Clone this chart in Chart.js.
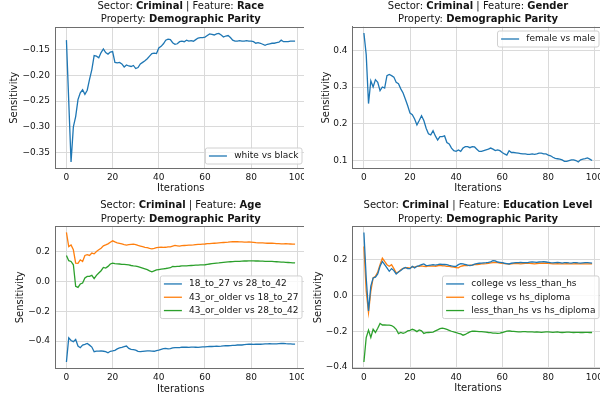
<!DOCTYPE html>
<html><head><meta charset="utf-8">
<script src="https://cdn.jsdelivr.net/npm/chart.js@4/dist/chart.umd.min.js"></script>
<style>
body{margin:0;background:#fff;width:600px;height:398px;overflow:hidden;position:relative}
.p{position:absolute;overflow:hidden}
canvas{position:absolute;left:0;top:0}
</style></head><body>
<div class="p" style="left:0;top:0;width:304px;height:199px"><canvas id="c1" width="320" height="199" style="width:320px;height:199px"></canvas></div>
<div class="p" style="left:300px;top:0;width:300px;height:199px"><canvas id="c2" width="320" height="199" style="width:320px;height:199px"></canvas></div>
<div class="p" style="left:0;top:199px;width:304px;height:199px"><canvas id="c3" width="320" height="199" style="width:320px;height:199px"></canvas></div>
<div class="p" style="left:300px;top:199px;width:300px;height:199px"><canvas id="c4" width="320" height="199" style="width:320px;height:199px"></canvas></div>
<script>
// ---------------- DATA ----------------
const SECTOR = 'Criminal';
const PROPERTY = 'Demographic Parity';
const X_TICKS = [0, 20, 40, 60, 80, 100];

const RACE_FEATURE = 'Race';
const RACE_LABELS = ['white vs black'];
const RACE_WHITE_VS_BLACK = [-0.132,-0.250,-0.368,-0.300,-0.280,-0.247,-0.234,-0.228,-0.237,-0.229,
-0.208,-0.189,-0.162,-0.163,-0.166,-0.156,-0.149,-0.156,-0.159,-0.155,
-0.154,-0.175,-0.176,-0.175,-0.178,-0.184,-0.180,-0.182,-0.183,-0.181,
-0.187,-0.185,-0.178,-0.175,-0.172,-0.168,-0.163,-0.158,-0.157,-0.158,
-0.147,-0.144,-0.139,-0.132,-0.130,-0.131,-0.137,-0.140,-0.139,-0.135,
-0.134,-0.135,-0.132,-0.134,-0.133,-0.134,-0.131,-0.128,-0.127,-0.127,
-0.126,-0.123,-0.120,-0.121,-0.122,-0.120,-0.119,-0.122,-0.126,-0.124,
-0.123,-0.127,-0.132,-0.134,-0.134,-0.133,-0.134,-0.134,-0.133,-0.134,
-0.134,-0.135,-0.138,-0.137,-0.138,-0.140,-0.142,-0.140,-0.139,-0.138,
-0.138,-0.137,-0.136,-0.132,-0.135,-0.135,-0.135,-0.134,-0.134,-0.134];
const RACE_Y_TICKS = [-0.35, -0.30, -0.25, -0.20, -0.15];
const RACE_Y_TICK_LABELS = ['\u22120.35', '\u22120.30', '\u22120.25', '\u22120.20', '\u22120.15'];

const GENDER_FEATURE = 'Gender';
const GENDER_LABELS = ['female vs male'];
const GENDER_FEMALE_VS_MALE = [0.447,0.388,0.255,0.317,0.300,0.320,0.313,0.290,0.300,0.297,
0.331,0.334,0.331,0.327,0.313,0.309,0.295,0.284,0.267,0.249,
0.229,0.225,0.213,0.197,0.209,0.222,0.209,0.188,0.173,0.170,
0.181,0.167,0.156,0.165,0.165,0.167,0.149,0.145,0.134,0.127,
0.125,0.129,0.125,0.134,0.138,0.138,0.135,0.138,0.137,0.131,
0.125,0.125,0.127,0.129,0.131,0.134,0.131,0.127,0.129,0.127,
0.122,0.118,0.115,0.127,0.122,0.122,0.121,0.120,0.119,0.118,
0.118,0.117,0.117,0.118,0.117,0.118,0.120,0.120,0.118,0.118,
0.115,0.113,0.109,0.106,0.105,0.104,0.102,0.098,0.098,0.100,
0.102,0.102,0.100,0.096,0.102,0.104,0.105,0.107,0.104,0.100];
const GENDER_Y_TICKS = [0.1, 0.2, 0.3, 0.4];
const GENDER_Y_TICK_LABELS = ['0.1', '0.2', '0.3', '0.4'];

const AGE_FEATURE = 'Age';
const AGE_LABELS = ['18_to_27 vs 28_to_42', '43_or_older vs 18_to_27', '43_or_older vs 28_to_42'];
const AGE_18_27_VS_28_42 = [-0.540,-0.378,-0.396,-0.404,-0.389,-0.433,-0.444,-0.427,-0.422,-0.416,
-0.427,-0.440,-0.471,-0.467,-0.467,-0.466,-0.468,-0.470,-0.478,-0.468,
-0.466,-0.462,-0.452,-0.446,-0.442,-0.437,-0.433,-0.449,-0.455,-0.457,
-0.460,-0.468,-0.471,-0.469,-0.467,-0.465,-0.466,-0.467,-0.468,-0.463,
-0.460,-0.455,-0.451,-0.449,-0.452,-0.450,-0.446,-0.443,-0.444,-0.443,
-0.441,-0.440,-0.441,-0.442,-0.440,-0.440,-0.441,-0.442,-0.440,-0.439,
-0.438,-0.437,-0.436,-0.436,-0.435,-0.434,-0.435,-0.434,-0.432,-0.431,
-0.431,-0.430,-0.429,-0.428,-0.426,-0.425,-0.426,-0.424,-0.422,-0.421,
-0.421,-0.422,-0.421,-0.420,-0.421,-0.420,-0.419,-0.418,-0.417,-0.418,
-0.419,-0.418,-0.417,-0.416,-0.415,-0.417,-0.418,-0.419,-0.420,-0.420];
const AGE_43_VS_18_27 = [0.327,0.233,0.244,0.211,0.122,0.120,0.144,0.133,0.173,0.178,
0.173,0.189,0.184,0.200,0.211,0.222,0.238,0.244,0.251,0.262,
0.271,0.264,0.258,0.254,0.250,0.246,0.243,0.245,0.247,0.249,
0.246,0.240,0.236,0.232,0.228,0.225,0.221,0.218,0.221,0.225,
0.227,0.228,0.227,0.228,0.230,0.231,0.236,0.240,0.238,0.236,
0.239,0.240,0.241,0.242,0.243,0.244,0.246,0.248,0.248,0.249,
0.250,0.252,0.252,0.254,0.255,0.256,0.258,0.259,0.260,0.261,
0.262,0.264,0.265,0.266,0.265,0.264,0.264,0.263,0.263,0.264,
0.263,0.261,0.259,0.258,0.257,0.257,0.256,0.255,0.255,0.255,
0.254,0.253,0.252,0.251,0.251,0.252,0.251,0.250,0.249,0.249];
const AGE_43_VS_28_42 = [0.173,0.138,0.133,0.111,-0.033,-0.040,-0.018,-0.011,0.022,0.033,
0.033,0.040,0.018,0.040,0.056,0.071,0.093,0.089,0.100,0.116,
0.122,0.119,0.117,0.116,0.114,0.113,0.112,0.110,0.106,0.103,
0.102,0.098,0.093,0.088,0.083,0.078,0.070,0.064,0.070,0.076,
0.079,0.082,0.084,0.086,0.089,0.091,0.100,0.098,0.100,0.101,
0.103,0.104,0.104,0.105,0.106,0.107,0.108,0.109,0.110,0.110,
0.111,0.114,0.116,0.118,0.120,0.122,0.123,0.125,0.127,0.129,
0.130,0.131,0.132,0.133,0.133,0.134,0.135,0.136,0.136,0.137,
0.137,0.137,0.136,0.136,0.135,0.135,0.134,0.134,0.133,0.133,
0.132,0.131,0.130,0.129,0.128,0.127,0.126,0.125,0.124,0.123];
const AGE_Y_TICKS = [-0.4, -0.2, 0.0, 0.2];
const AGE_Y_TICK_LABELS = ['\u22120.4', '\u22120.2', '0.0', '0.2'];

const EDU_FEATURE = 'Education Level';
const EDU_LABELS = ['college vs less_than_hs', 'college vs hs_diploma', 'less_than_hs vs hs_diploma'];
const EDU_COLLEGE_VS_LTHS = [0.352,0.098,-0.087,0.052,0.098,0.102,0.120,0.163,0.190,0.172,
0.154,0.135,0.150,0.139,0.120,0.131,0.139,0.150,0.157,0.150,
0.150,0.163,0.154,0.163,0.167,0.172,0.176,0.167,0.168,0.170,
0.172,0.170,0.172,0.175,0.173,0.174,0.172,0.168,0.165,0.163,
0.163,0.172,0.178,0.177,0.173,0.170,0.167,0.170,0.175,0.178,
0.180,0.181,0.182,0.183,0.185,0.188,0.194,0.193,0.187,0.185,
0.183,0.180,0.178,0.176,0.180,0.182,0.183,0.184,0.185,0.184,
0.183,0.184,0.186,0.187,0.186,0.185,0.187,0.188,0.189,0.187,
0.185,0.183,0.182,0.184,0.185,0.183,0.181,0.183,0.184,0.182,
0.181,0.183,0.184,0.182,0.181,0.182,0.183,0.183,0.182,0.181];
const EDU_COLLEGE_VS_HSD = [0.274,0.024,-0.096,0.024,0.098,0.107,0.131,0.172,0.209,0.190,
0.172,0.163,0.172,0.150,0.126,0.131,0.144,0.152,0.154,0.156,
0.153,0.160,0.158,0.162,0.163,0.165,0.163,0.162,0.165,0.164,
0.165,0.163,0.166,0.168,0.166,0.165,0.163,0.162,0.160,0.158,
0.156,0.154,0.163,0.166,0.168,0.167,0.169,0.170,0.172,0.173,
0.174,0.176,0.177,0.178,0.180,0.182,0.184,0.185,0.183,0.181,
0.180,0.178,0.176,0.175,0.177,0.178,0.179,0.178,0.177,0.178,
0.179,0.180,0.179,0.178,0.177,0.178,0.179,0.180,0.181,0.180,
0.179,0.178,0.176,0.177,0.178,0.177,0.176,0.177,0.178,0.177,
0.176,0.177,0.178,0.177,0.176,0.177,0.177,0.176,0.176,0.176];
const EDU_LTHS_VS_HSD = [-0.372,-0.235,-0.194,-0.235,-0.189,-0.207,-0.183,-0.157,-0.165,-0.165,
-0.166,-0.166,-0.168,-0.176,-0.189,-0.213,-0.207,-0.212,-0.207,-0.198,
-0.195,-0.189,-0.194,-0.202,-0.193,-0.198,-0.212,-0.208,-0.207,-0.206,
-0.205,-0.198,-0.192,-0.186,-0.183,-0.186,-0.190,-0.195,-0.200,-0.204,
-0.207,-0.212,-0.215,-0.222,-0.218,-0.210,-0.204,-0.200,-0.200,-0.201,
-0.202,-0.202,-0.203,-0.205,-0.207,-0.208,-0.210,-0.211,-0.212,-0.210,
-0.207,-0.203,-0.199,-0.198,-0.200,-0.201,-0.202,-0.203,-0.203,-0.202,
-0.202,-0.203,-0.204,-0.204,-0.205,-0.204,-0.205,-0.206,-0.205,-0.204,
-0.204,-0.205,-0.206,-0.205,-0.204,-0.206,-0.207,-0.206,-0.205,-0.205,
-0.206,-0.207,-0.206,-0.206,-0.207,-0.207,-0.206,-0.206,-0.207,-0.207];
const EDU_Y_TICKS = [-0.4, -0.2, 0.0, 0.2];
const EDU_Y_TICK_LABELS = ['\u22120.4', '\u22120.2', '0.0', '0.2'];

// ---------------- STYLE ----------------
const BLUE = '#1f77b4', ORANGE = '#ff7f0e', GREEN = '#2ca02c';
const FONT = '"DejaVu Sans", "Liberation Sans", sans-serif';
const TXT = '#141414';
const GRID = '#dadada';
const SPINE = '#6e6e6e';
const TICK_FONT = {family: FONT, size: 9};
const LABEL_FONT = {family: FONT, size: 10};

function autoRange(list) {
  let lo = Infinity, hi = -Infinity;
  list.forEach(a => a.forEach(v => { if (v < lo) lo = v; if (v > hi) hi = v; }));
  const m = (hi - lo) * 0.05;
  return [lo - m, hi + m];
}

function drawMixed(ctx, parts, cx, y, size) {
  let total = 0;
  const w = parts.map(p => { ctx.font = (p[1] ? 'bold ' : '') + size + 'px ' + FONT; const ww = ctx.measureText(p[0]).width; total += ww; return ww; });
  let x = cx - total / 2;
  ctx.textBaseline = 'middle'; ctx.textAlign = 'left'; ctx.fillStyle = TXT;
  parts.forEach((p, i) => { ctx.font = (p[1] ? 'bold ' : '') + size + 'px ' + FONT; ctx.fillText(p[0], x, y); x += w[i]; });
}

const titlePlugin = {
  id: 'mplTitle',
  afterDraw(chart, args, o) {
    const ctx = chart.ctx, a = chart.chartArea, cx = (a.left + a.right) / 2;
    ctx.save();
    drawMixed(ctx, [['Sector: ', false], [SECTOR, true], [' | Feature: ', false], [o.feature, true]], cx, o.y1, 10);
    drawMixed(ctx, [['Property: ', false], [PROPERTY, true]], cx, o.y2, 10);
    ctx.restore();
  }
};

const framePlugin = {
  id: 'mplFrame',
  afterDatasetsDraw(chart) {
    const ctx = chart.ctx, a = chart.chartArea;
    ctx.save(); ctx.strokeStyle = SPINE; ctx.lineWidth = 1;
    const y = Math.round(a.top) + 0.5;
    ctx.beginPath(); ctx.moveTo(a.left, y); ctx.lineTo(a.right, y); ctx.stroke();
    ctx.restore();
  }
};

const legendPlugin = {
  id: 'mplLegend',
  afterDraw(chart, args, o) {
    const ctx = chart.ctx, a = chart.chartArea;
    const fs = 9, pad = 0.4 * fs, hl = 2 * fs, hp = 0.8 * fs, ls = 0.5 * fs, ap = 0.5 * fs, rh = 8.8;
    ctx.save();
    ctx.font = fs + 'px ' + FONT;
    const ds = chart.data.datasets;
    const maxW = Math.max(...ds.map(d => ctx.measureText(d.label).width));
    const bw = pad * 2 + hl + hp + maxW;
    const bh = pad * 2 + ds.length * rh + (ds.length - 1) * ls;
    const x = a.right - ap - bw;
    let y;
    if (o.loc === 'upper right') y = a.top + ap;
    else if (o.loc === 'lower right') y = a.bottom - ap - bh;
    else y = (a.top + a.bottom) / 2 - bh / 2;
    const r = 2;
    ctx.beginPath();
    ctx.moveTo(x + r, y); ctx.lineTo(x + bw - r, y); ctx.quadraticCurveTo(x + bw, y, x + bw, y + r);
    ctx.lineTo(x + bw, y + bh - r); ctx.quadraticCurveTo(x + bw, y + bh, x + bw - r, y + bh);
    ctx.lineTo(x + r, y + bh); ctx.quadraticCurveTo(x, y + bh, x, y + bh - r);
    ctx.lineTo(x, y + r); ctx.quadraticCurveTo(x, y, x + r, y); ctx.closePath();
    ctx.fillStyle = 'rgba(255,255,255,0.8)'; ctx.fill();
    ctx.strokeStyle = '#d0d0d0'; ctx.lineWidth = 1; ctx.stroke();
    ds.forEach((d, i) => {
      const cy = y + pad + i * (rh + ls) + rh / 2;
      ctx.strokeStyle = d.borderColor; ctx.lineWidth = 1.3;
      ctx.beginPath(); ctx.moveTo(x + pad, cy); ctx.lineTo(x + pad + hl, cy); ctx.stroke();
      ctx.fillStyle = TXT; ctx.textBaseline = 'middle'; ctx.textAlign = 'left';
      ctx.fillText(d.label, x + pad + hl + hp, cy);
    });
    ctx.restore();
  }
};

function makeChart(id, p) {
  const canvas = document.getElementById(id);
  const W = canvas.width, H = canvas.height;
  const [yMin, yMax] = autoRange(p.series.map(s => s.data));
  const gridCfg = {color: GRID, drawTicks: false, lineWidth: 1};
  const borderCfg = {color: SPINE, width: 1};
  return new Chart(canvas, {
    type: 'line',
    data: {
      datasets: p.series.map(s => ({
        label: s.label,
        data: s.data.map((v, i) => ({x: i, y: v})),
        borderColor: s.color, backgroundColor: s.color,
        borderWidth: 1.3, pointRadius: 0, tension: 0, fill: false
      }))
    },
    options: {
      responsive: false, animation: false, devicePixelRatio: 1,
      layout: {padding: {left: 0, top: p.top, right: W - p.right, bottom: 0}},
      plugins: {
        legend: {display: false}, tooltip: {enabled: false},
        mplTitle: {feature: p.feature, y1: p.t1, y2: p.t2},
        mplLegend: {loc: p.loc}
      },
      scales: {
        x: {
          type: 'linear', min: -4.95, max: 103.95, bounds: 'data',
          afterBuildTicks: s => { s.ticks = X_TICKS.map(v => ({value: v})); },
          afterFit: s => { s.height = H - p.bottom; },
          ticks: {autoSkip: false, maxRotation: 0, padding: 3.5, font: TICK_FONT, color: TXT, callback: v => String(v)},
          grid: gridCfg, border: borderCfg,
          title: {display: true, text: 'Iterations', font: LABEL_FONT, color: TXT, padding: {top: 0, bottom: p.xtb}}
        },
        y: {
          type: 'linear', min: yMin, max: yMax, bounds: 'data',
          afterBuildTicks: s => { s.ticks = p.yTicks.map(v => ({value: v})); },
          afterFit: s => { s.width = p.left; },
          ticks: {autoSkip: false, padding: 5, font: TICK_FONT, color: TXT, callback: (v, i) => p.yLabels[i]},
          grid: gridCfg, border: borderCfg,
          title: {display: true, text: 'Sensitivity', font: LABEL_FONT, color: TXT, padding: {top: p.ytp, bottom: 0}}
        }
      }
    },
    plugins: [framePlugin, legendPlugin, titlePlugin]
  });
}

makeChart('c1', {
  feature: RACE_FEATURE, loc: 'lower right',
  series: [{label: RACE_LABELS[0], data: RACE_WHITE_VS_BLACK, color: BLUE}],
  yTicks: RACE_Y_TICKS, yLabels: RACE_Y_TICK_LABELS,
  left: 55, right: 306.5, top: 27, bottom: 168.5, ytp: 8.5, xtb: 4.3, t1: 6, t2: 19
});
makeChart('c2', {
  feature: GENDER_FEATURE, loc: 'upper right',
  series: [{label: GENDER_LABELS[0], data: GENDER_FEMALE_VS_MALE, color: BLUE}],
  yTicks: GENDER_Y_TICKS, yLabels: GENDER_Y_TICK_LABELS,
  left: 52.5, right: 303.5, top: 26.5, bottom: 168.5, ytp: 20.7, xtb: 4.7, t1: 6, t2: 19
});
makeChart('c3', {
  feature: AGE_FEATURE, loc: 'center right',
  series: [
    {label: AGE_LABELS[0], data: AGE_18_27_VS_28_42, color: BLUE},
    {label: AGE_LABELS[1], data: AGE_43_VS_18_27, color: ORANGE},
    {label: AGE_LABELS[2], data: AGE_43_VS_28_42, color: GREEN}
  ],
  yTicks: AGE_Y_TICKS, yLabels: AGE_Y_TICK_LABELS,
  left: 55, right: 306.5, top: 27, bottom: 169.5, ytp: 14.7, xtb: 2.3, t1: 6.3, t2: 20
});
makeChart('c4', {
  feature: EDU_FEATURE, loc: 'center right',
  series: [
    {label: EDU_LABELS[0], data: EDU_COLLEGE_VS_LTHS, color: BLUE},
    {label: EDU_LABELS[1], data: EDU_COLLEGE_VS_HSD, color: ORANGE},
    {label: EDU_LABELS[2], data: EDU_LTHS_VS_HSD, color: GREEN}
  ],
  yTicks: EDU_Y_TICKS, yLabels: EDU_Y_TICK_LABELS,
  left: 52.5, right: 303.5, top: 27, bottom: 169.5, ytp: 12.3, xtb: 3.3, t1: 6.3, t2: 20
});
</script>
</body></html>
